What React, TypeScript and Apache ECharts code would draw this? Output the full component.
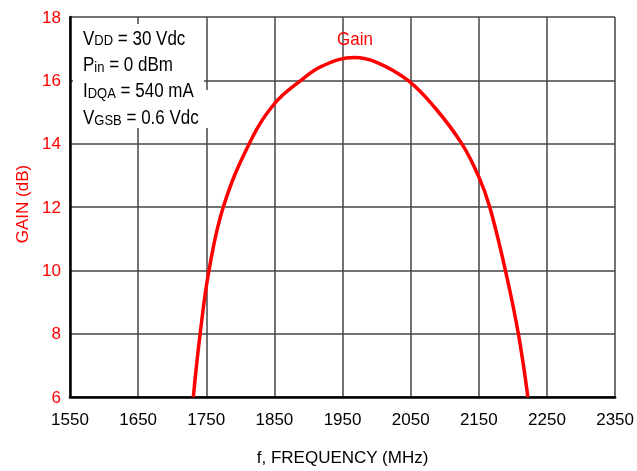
import React, { useEffect, useRef } from "react";
import * as echarts from "echarts";

const frequency = [1731, 1741, 1754, 1775, 1813, 1850, 1889, 1920, 1967, 2000, 2046, 2085, 2125, 2150, 2166, 2189, 2208, 2222];
const gain = [6, 8, 10, 12, 14, 15.26, 16, 16.45, 16.72, 16.57, 16, 15.15, 14, 12.95, 12, 10, 8, 6];
const xTicks = { min: 1550, max: 2350, interval: 100 };
const yTicks = { min: 6, max: 18, interval: 2 };
const conditions = [
  ["V", "DD", " = 30 Vdc"],
  ["P", "in", " = 0 dBm"],
  ["I", "DQA", " = 540 mA"],
  ["V", "GSB", " = 0.6 Vdc"],
];

const FONT = "'Liberation Sans', Arial, Helvetica, sans-serif";

export default function App() {
  const ref = useRef<HTMLDivElement>(null);
  useEffect(() => {
    const chart = echarts.init(ref.current!, undefined, { renderer: "svg" });
    const condTexts = conditions.map((c, i) => ({
      type: "text",
      x: 83,
      y: 24 + i * 26.4,
      scaleY: 1.18,
      z: 10,
      style: {
        text: `{a|${c[0]}}{s|${c[1]}}{a|${c[2]}}`,
        verticalAlign: "top",
        align: "left",
        rich: {
          a: { fontSize: 17, fontFamily: FONT, fill: "#000", lineHeight: 20, verticalAlign: "bottom" },
          s: { fontSize: 13, fontFamily: FONT, fill: "#000", lineHeight: 14, padding: [6, 0, 0, 0], verticalAlign: "bottom" },
        },
      },
    }));
    chart.setOption({
      animation: false,
      grid: { left: 70, right: 19, top: 17, bottom: 70 },
      xAxis: {
        type: "value",
        min: xTicks.min,
        max: xTicks.max,
        interval: xTicks.interval,
        name: "f, FREQUENCY (MHz)",
        nameLocation: "middle",
        nameGap: 52,
        nameTextStyle: { color: "#000", fontSize: 17, fontFamily: FONT },
        axisLine: { show: true, onZero: false, lineStyle: { color: "#000", width: 2.5 } },
        axisTick: { show: false },
        axisLabel: { color: "#000", fontSize: 17, fontFamily: FONT, margin: 14, formatter: (v: number) => String(v) },
        splitLine: { show: true, lineStyle: { color: "#444", width: 1.5 } },
      },
      yAxis: {
        type: "value",
        min: yTicks.min,
        max: yTicks.max,
        interval: yTicks.interval,
        axisLine: { show: true, lineStyle: { color: "#000", width: 2.5 } },
        axisTick: { show: false },
        axisLabel: { color: "#ff0000", fontSize: 17, fontFamily: FONT, margin: 9, formatter: (v: number) => String(v) },
        splitLine: { show: true, lineStyle: { color: "#444", width: 1.5 } },
      },
      series: [
        {
          type: "line",
          data: frequency.map((f, i) => [f, gain[i]]),
          smooth: 0.4,
          showSymbol: false,
          lineStyle: { color: "#ff0000", width: 3.5 },
          clip: true,
        },
      ],
      graphic: [
        { type: "rect", left: 73, top: 24, z: 5, shape: { width: 131, height: 104 }, style: { fill: "#fff" } },
        { type: "rect", left: 203, top: 90, z: 5, shape: { width: 8, height: 38 }, style: { fill: "#fff" } },
        ...condTexts,
        {
          type: "text",
          x: 355,
          y: 29.5,
          scaleY: 1.12,
          z: 10,
          style: { text: "Gain", fontSize: 17, fontFamily: FONT, fill: "#ff0000", align: "center", verticalAlign: "top" },
        },
        {
          type: "text",
          x: 22,
          y: 204,
          rotation: Math.PI / 2,
          z: 10,
          style: { text: "GAIN (dB)", fontSize: 17, fontFamily: FONT, fill: "#ff0000", align: "center", verticalAlign: "middle" },
        },
      ],
    });
    return () => chart.dispose();
  }, []);
  return <div ref={ref} style={{ position: "fixed", left: 0, top: 0, width: 637, height: 471 }} />;
}
